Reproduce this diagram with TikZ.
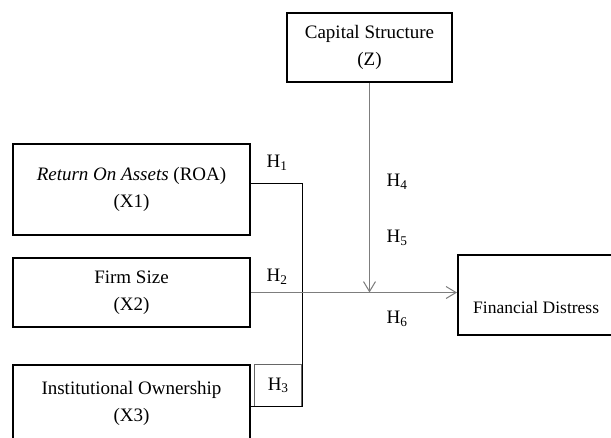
\documentclass[tikz,border=0pt]{standalone}
\usepackage{fontspec}
\setmainfont{Liberation Serif}
\usetikzlibrary{arrows.meta, positioning}
\definecolor{arrowgray}{RGB}{125, 125, 125}
\tikzset{
  varbox/.style={draw=black, line width=1.7pt, align=center, inner sep=0pt, font=\fontsize{19}{27}\selectfont},
  hlabel/.style={inner sep=0pt, font=\fontsize{19}{22}\selectfont},
  linkline/.style={draw=black, line width=0.7pt},
  effect/.style={draw=arrowgray, line width=1pt, -{Straight Barb[length=10pt, width=12pt]}}
}

\begin{document}
\begin{tikzpicture}[x=1pt, y=-1pt]
  \useasboundingbox (0,0) rectangle (611,437);
  \clip (0,0) rectangle (611,437);

  % variable boxes
  \node[varbox, minimum width=165pt, minimum height=69pt] (capstr) at (369.5, 47.5) {Capital Structure\\(Z)};
  \node[varbox, minimum width=237pt, minimum height=91pt] (roa) at (131.5, 189.5) {\textit{Return On Assets} (ROA)\\(X1)};
  \node[varbox, minimum width=237pt, minimum height=69pt] (size) at (131.5, 292.5) {Firm Size\\(X2)};
  \node[varbox, minimum width=237pt, minimum height=76pt] (inst) at (131.5, 403) {Institutional Ownership\\(X3)};
  \node[varbox, minimum width=183pt, minimum height=80pt, anchor=north west] (distress) at (457, 254) {};
  \node[hlabel, anchor=west, font=\fontsize{17.5}{22}\selectfont] (distresstext) at ([xshift=16pt, yshift=-13pt]distress.west) {Financial Distress};

  % H1 / H3 bracket
  \node[hlabel, draw=black!60, line width=0.6pt, minimum width=47pt, minimum height=42pt, anchor=north east] (h3) at (302, 364) {H\textsubscript{3}};
  \coordinate (bend) at (302, 183);
  \draw[linkline] (roa.east |- bend) -- (bend) -- (bend |- h3.south) -- (inst.east |- h3.south);

  % effects
  \coordinate (meet) at (capstr.south |- size.east);
  \draw[effect] (capstr.south) -- (meet);
  \draw[effect] (size.east) -- (distress.west |- size.east);

  % hypothesis labels
  \node[hlabel] (h1) at (277, 163) {H\textsubscript{1}};
  \node[hlabel] (h2) at (277, 277) {H\textsubscript{2}};
  \node[hlabel] (h4) at (397, 182) {H\textsubscript{4}};
  \node[hlabel] (h5) at (397, 238) {H\textsubscript{5}};
  \node[hlabel] (h6) at (397, 319) {H\textsubscript{6}};
\end{tikzpicture}
\end{document}
